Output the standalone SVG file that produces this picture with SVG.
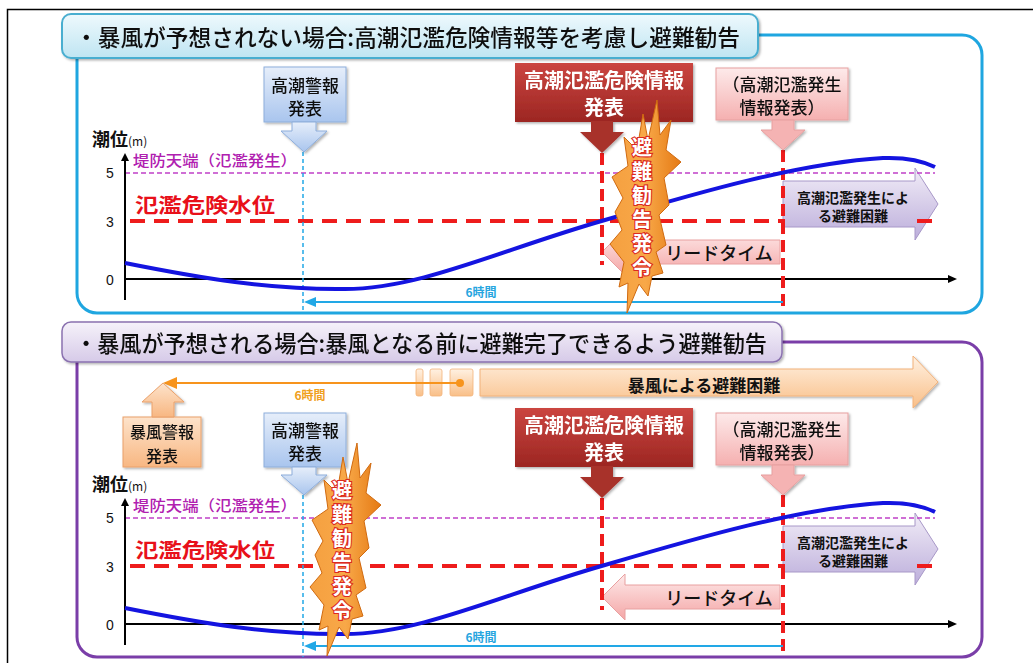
<svg xmlns="http://www.w3.org/2000/svg" xmlns:xlink="http://www.w3.org/1999/xlink" width="1033" height="663" viewBox="0 0 1033 663">
<defs>
<style>
.jp{font-family:"Noto Sans CJK JP","Noto Sans",sans-serif}
.ttl{font-size:23px;fill:#111;font-weight:500}
.cb{font-size:17px;fill:#111;text-anchor:middle;font-weight:500}
.cw{font-size:20px;fill:#fff;text-anchor:middle;font-weight:bold}
.tick{font-family:"Liberation Sans",Arial,sans-serif;font-size:14px;fill:#111;text-anchor:middle}
.ax{stroke:#000;stroke-width:2;fill:none}
.pd{stroke:#c040c8;stroke-width:1.5;stroke-dasharray:5 3;fill:none}
.rd{stroke:#ee1c1c;stroke-width:4;stroke-dasharray:15 9;fill:none}
.rv{stroke:#ee1c1c;stroke-width:4;stroke-dasharray:12 6;fill:none}
.cv{stroke:#22a8e6;stroke-width:1.5;stroke-dasharray:4 3;fill:none}
.cl{stroke:#22a8e6;stroke-width:2;fill:none}
.curve{stroke:#1414e0;stroke-width:4;fill:none}
.lvl{font-size:20px;fill:#e8101a;font-weight:bold}
.dike{font-size:15px;fill:#b020b0;font-weight:500}
.six{font-size:12px;font-weight:bold}
.burst{fill:url(#gBurst);stroke:#d06a10;stroke-width:1}
.bt{font-size:20px;fill:#fff;stroke:#dc2a20;stroke-width:2.2;paint-order:stroke;font-weight:bold;writing-mode:vertical-rl;letter-spacing:4px}
</style>
<linearGradient id="gTitleT" x1="0" y1="0" x2="0" y2="1"><stop offset="0" stop-color="#eef9fd"/><stop offset="1" stop-color="#bfe5f2"/></linearGradient>
<linearGradient id="gTitleB" x1="0" y1="0" x2="0" y2="1"><stop offset="0" stop-color="#f6f2fa"/><stop offset="1" stop-color="#d6cae8"/></linearGradient>
<linearGradient id="gBlue" x1="0" y1="0" x2="0" y2="1"><stop offset="0" stop-color="#e6eefa"/><stop offset="1" stop-color="#a9c5ee"/></linearGradient>
<linearGradient id="gRed" x1="0" y1="0" x2="0" y2="1"><stop offset="0" stop-color="#cb4540"/><stop offset="1" stop-color="#9c2622"/></linearGradient>
<linearGradient id="gPink" x1="0" y1="0" x2="0" y2="1"><stop offset="0" stop-color="#fdeaea"/><stop offset="1" stop-color="#f5b0b0"/></linearGradient>
<linearGradient id="gOrange" x1="0" y1="0" x2="0" y2="1"><stop offset="0" stop-color="#fde3cb"/><stop offset="1" stop-color="#f8b782"/></linearGradient>
<linearGradient id="gPeach" x1="0" y1="0" x2="0" y2="1"><stop offset="0" stop-color="#fff1e2"/><stop offset="1" stop-color="#f9bf88"/></linearGradient>
<linearGradient id="gPurple" x1="0" y1="0" x2="0" y2="1"><stop offset="0" stop-color="#f1ecf7"/><stop offset="1" stop-color="#bcaedb"/></linearGradient>
<linearGradient id="gLead" x1="0" y1="0" x2="0" y2="1"><stop offset="0" stop-color="#feeaea"/><stop offset="1" stop-color="#f4a6a6"/></linearGradient>
<linearGradient id="gBurst" x1="0" y1="0" x2="1" y2="0"><stop offset="0" stop-color="#f5a040"/><stop offset="0.5" stop-color="#f8a848"/><stop offset="1" stop-color="#e57a14"/></linearGradient>
<filter id="sh" x="-10%" y="-10%" width="130%" height="140%"><feDropShadow dx="1.5" dy="1.5" stdDeviation="1.2" flood-color="#000" flood-opacity="0.3"/></filter>
<path id="burstShape" d="M657,100 L660,135 L671,120 L666,150 L681,162 L664,178 L669,205 L659,215 L666,245 L656,252 L663,273 L652,276 L648,296 L639,284 L627,313 L628,283 L619,287 L624,262 L610,244 L622,230 L615,212 L623,198 L612,177 L628,166 L624,137 L637,150 L643,114 L648,140 Z"/>
<polygon id="yArrow" points="125,153 121,161 129,161"/>
</defs>

<rect x="7.5" y="9.5" width="1040" height="670" fill="#fff" stroke="#000" stroke-width="1.5"/>

<!-- ===== TOP PANEL ===== -->
<g id="panel-top">
<rect x="77" y="35" width="905" height="278" rx="20" fill="none" stroke="#1fa6e0" stroke-width="3"/>
<g id="title-top" filter="url(#sh)">
<rect x="62" y="14" width="696" height="44" rx="9" fill="url(#gTitleT)" stroke="#4aaed0" stroke-width="2"/>
<text class="jp ttl" x="75" y="46" textLength="665" lengthAdjust="spacingAndGlyphs">・暴風が予想されない場合:高潮氾濫危険情報等を考慮し避難勧告</text>
</g>
</g>

<g id="chart-top">
<path id="arrow-flood-top" d="M783,181 H915 V168 L938,204 L915,240 V227 H783 Z" fill="url(#gPurple)" stroke="#a898c8" stroke-width="1"/>
<text class="jp" x="853" y="203" font-size="14" font-weight="bold" text-anchor="middle" fill="#111">高潮氾濫発生によ</text>
<text class="jp" x="853" y="221" font-size="14" font-weight="bold" text-anchor="middle" fill="#111">る避難困難</text>

<line class="pd" x1="125" y1="173" x2="935" y2="173"/>
<line class="rd" x1="130" y1="221" x2="785" y2="221"/>
<line class="rd" x1="917" y1="221" x2="935" y2="221" stroke-dasharray="18 4"/>

<path id="arrow-lead-top" d="M602,252 L625,229 V240 H780 V264 H625 V275 Z" fill="url(#gLead)" stroke="#e8a0a0" stroke-width="1"/>
<text class="jp" x="719" y="260" font-size="18" font-weight="500" text-anchor="middle" fill="#111">リードタイム</text>

<line class="ax" x1="125" y1="300" x2="125" y2="158"/>
<use href="#yArrow"/>
<line class="ax" x1="125" y1="279" x2="950" y2="279"/>
<polygon points="957,279 948,275 948,283" fill="#000"/>
<text class="tick" x="110" y="178">5</text>
<text class="tick" x="110" y="227">3</text>
<text class="tick" x="110" y="285">0</text>
<text class="jp" x="92" y="146" font-size="18" font-weight="bold" fill="#111">潮位<tspan font-size="12" font-weight="normal">(m)</tspan></text>
<text class="jp dike" x="133" y="166" textLength="164" lengthAdjust="spacingAndGlyphs">堤防天端（氾濫発生）</text>
<text class="jp lvl" x="135" y="213" textLength="140" lengthAdjust="spacingAndGlyphs">氾濫危険水位</text>

<line class="cv" x1="303" y1="152" x2="303" y2="313"/>
<line class="rv" x1="602" y1="153" x2="602" y2="265"/>
<line class="rv" x1="783" y1="150" x2="783" y2="307"/>

<path class="curve" d="M125,263 C200,278 270,290 345,289 C420,289 500,250 605,220 C700,192 800,163 883,158 C910,157 925,162 935,167"/>

<line class="cl" x1="314" y1="302" x2="783" y2="302"/>
<polygon points="304,302 316,297 316,307" fill="#22a8e6"/>
<text class="jp six" x="481" y="297" text-anchor="middle" fill="#27a6df">6時間</text>
</g>

<g id="callout-takashio-top" filter="url(#sh)">
<rect x="264" y="67" width="82" height="55" fill="url(#gBlue)" stroke="#8eaedb" stroke-width="1"/>
<path d="M292,122 H316 V131 H327 L304,152 L281,131 H292 Z" fill="url(#gBlue)" stroke="#8eaedb" stroke-width="1"/>
<text class="jp cb" x="305" y="92">高潮警報</text>
<text class="jp cb" x="305" y="115">発表</text>
</g>
<g id="callout-kiken-top" filter="url(#sh)">
<rect x="515" y="63" width="178" height="59" fill="url(#gRed)"/>
<path d="M591,121 H613 V132 H624 L602,153 L580,132 H591 Z" fill="#a8302b"/>
<text class="jp cw" x="604" y="88">高潮氾濫危険情報</text>
<text class="jp cw" x="604" y="115">発表</text>
</g>
<g id="callout-hassei-top" filter="url(#sh)">
<rect x="716" y="68" width="132" height="52" fill="url(#gPink)" stroke="#e7a0a0" stroke-width="1"/>
<path d="M772,120 H794 V130 H805 L783,150 L761,130 H772 Z" fill="#f5b3b3" stroke="#e7a0a0" stroke-width="1"/>
<text class="jp cb" x="782" y="91">（高潮氾濫発生</text>
<text class="jp cb" x="782" y="114">情報発表）</text>
</g>

<g id="burst-top">
<use href="#burstShape" class="burst"/>
<text class="jp bt" x="642" y="137">避難勧告発令</text>
</g>

<!-- ===== BOTTOM PANEL ===== -->
<g id="panel-bottom">
<rect x="77" y="342" width="905" height="315" rx="20" fill="none" stroke="#7a3ea8" stroke-width="3"/>
<g id="title-bottom" filter="url(#sh)">
<rect x="62" y="322" width="720" height="40" rx="9" fill="url(#gTitleB)" stroke="#8b72b0" stroke-width="1.5"/>
<text class="jp ttl" x="75" y="352" textLength="692" lengthAdjust="spacingAndGlyphs">・暴風が予想される場合:暴風となる前に避難完了できるよう避難勧告</text>
</g>
</g>

<g id="storm-band">
<rect x="416" y="369" width="7" height="27" rx="2" fill="url(#gPeach)" stroke="#f2b27a" stroke-width="0.8"/>
<rect x="430" y="369" width="12" height="27" rx="2" fill="url(#gPeach)" stroke="#f2b27a" stroke-width="0.8"/>
<rect x="450" y="369" width="23" height="27" rx="2" fill="url(#gPeach)" stroke="#f2b27a" stroke-width="0.8"/>
<path d="M480,369 H913 V356 L938,382 L913,408 V396 H480 Z" fill="url(#gPeach)" stroke="#f2b27a" stroke-width="1" filter="url(#sh)"/>
<text class="jp" x="704" y="392" font-size="17" font-weight="bold" text-anchor="middle" fill="#111">暴風による避難困難</text>
<line x1="175" y1="383" x2="460" y2="383" stroke="#f7941d" stroke-width="2"/>
<polygon points="163,383 177,377 177,389" fill="#f7941d"/>
<circle cx="460" cy="383" r="4" fill="#f7941d"/>
<text class="jp six" x="310" y="400" text-anchor="middle" fill="#f0a020">6時間</text>
</g>

<g id="chart-bottom">
<path id="arrow-flood-bottom" d="M783,526 H915 V513 L938,549 L915,585 V572 H783 Z" fill="url(#gPurple)" stroke="#a898c8" stroke-width="1"/>
<text class="jp" x="853" y="548" font-size="14" font-weight="bold" text-anchor="middle" fill="#111">高潮氾濫発生によ</text>
<text class="jp" x="853" y="566" font-size="14" font-weight="bold" text-anchor="middle" fill="#111">る避難困難</text>

<line class="pd" x1="125" y1="518" x2="935" y2="518"/>
<line class="rd" x1="130" y1="566" x2="785" y2="566"/>
<line class="rd" x1="917" y1="566" x2="935" y2="566" stroke-dasharray="18 4"/>

<path id="arrow-lead-bottom" d="M602,597 L625,574 V585 H780 V609 H625 V620 Z" fill="url(#gLead)" stroke="#e8a0a0" stroke-width="1"/>
<text class="jp" x="719" y="605" font-size="18" font-weight="500" text-anchor="middle" fill="#111">リードタイム</text>

<line class="ax" x1="125" y1="645" x2="125" y2="503"/>
<use href="#yArrow" transform="translate(0,345)"/>
<line class="ax" x1="125" y1="624" x2="950" y2="624"/>
<polygon points="957,624 948,620 948,628" fill="#000"/>
<text class="tick" x="110" y="523">5</text>
<text class="tick" x="110" y="572">3</text>
<text class="tick" x="110" y="630">0</text>
<text class="jp" x="92" y="491" font-size="18" font-weight="bold" fill="#111">潮位<tspan font-size="12" font-weight="normal">(m)</tspan></text>
<text class="jp dike" x="133" y="511" textLength="164" lengthAdjust="spacingAndGlyphs">堤防天端（氾濫発生）</text>
<text class="jp lvl" x="135" y="558" textLength="140" lengthAdjust="spacingAndGlyphs">氾濫危険水位</text>

<line class="cv" x1="303" y1="495" x2="303" y2="657"/>
<line class="rv" x1="602" y1="498" x2="602" y2="610"/>
<line class="rv" x1="783" y1="495" x2="783" y2="653"/>

<path class="curve" transform="translate(0,345)" d="M125,263 C200,278 270,290 345,289 C420,289 500,250 605,220 C700,192 800,163 883,158 C910,157 925,162 935,167"/>

<line class="cl" x1="314" y1="646" x2="783" y2="646"/>
<polygon points="304,646 316,641 316,651" fill="#22a8e6"/>
<text class="jp six" x="481" y="642" text-anchor="middle" fill="#27a6df">6時間</text>
</g>

<g id="callout-bofu-bottom" filter="url(#sh)">
<rect x="123" y="417" width="78" height="50" fill="url(#gOrange)" stroke="#eaa06a" stroke-width="1"/>
<path d="M152,417 V402 H142 L163,383 L184,402 H174 V417 Z" fill="url(#gOrange)" stroke="#eaa06a" stroke-width="1"/>
<text class="jp cb" x="162" y="438" style="font-size:16px">暴風警報</text>
<text class="jp cb" x="162" y="462" style="font-size:16px">発表</text>
</g>
<g id="callout-takashio-bottom" filter="url(#sh)">
<rect x="264" y="413" width="82" height="54" fill="url(#gBlue)" stroke="#8eaedb" stroke-width="1"/>
<path d="M292,467 H316 V475 H327 L304,495 L281,475 H292 Z" fill="url(#gBlue)" stroke="#8eaedb" stroke-width="1"/>
<text class="jp cb" x="305" y="437">高潮警報</text>
<text class="jp cb" x="305" y="460">発表</text>
</g>
<g id="callout-kiken-bottom" filter="url(#sh)">
<rect x="515" y="408" width="178" height="59" fill="url(#gRed)"/>
<path d="M591,466 H613 V477 H624 L602,498 L580,477 H591 Z" fill="#a8302b"/>
<text class="jp cw" x="604" y="433">高潮氾濫危険情報</text>
<text class="jp cw" x="604" y="460">発表</text>
</g>
<g id="callout-hassei-bottom" filter="url(#sh)">
<rect x="716" y="413" width="132" height="52" fill="url(#gPink)" stroke="#e7a0a0" stroke-width="1"/>
<path d="M772,465 H794 V475 H805 L783,495 L761,475 H772 Z" fill="#f5b3b3" stroke="#e7a0a0" stroke-width="1"/>
<text class="jp cb" x="782" y="436">（高潮氾濫発生</text>
<text class="jp cb" x="782" y="459">情報発表）</text>
</g>

<g id="burst-bottom" transform="translate(-300,343)">
<use href="#burstShape" class="burst"/>
<text class="jp bt" x="642" y="137">避難勧告発令</text>
</g>
</svg>
